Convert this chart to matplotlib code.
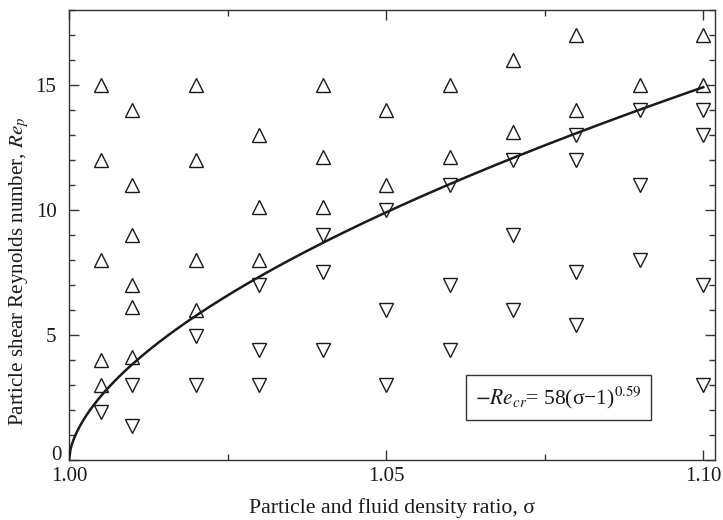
"""
Particle shear Reynolds number vs density ratio, with critical curve.
"""

import numpy as np
import matplotlib
matplotlib.use('Agg')
import matplotlib.pyplot as plt
from matplotlib.ticker import MultipleLocator
from matplotlib.transforms import ScaledTranslation

# Data
# upward triangles (motion)
up_sigma = [1.005, 1.005, 1.005, 1.005, 1.005,
            1.01, 1.01, 1.01, 1.01, 1.01, 1.01,
            1.02, 1.02, 1.02, 1.02,
            1.03, 1.03, 1.03,
            1.04, 1.04, 1.04,
            1.05, 1.05,
            1.06, 1.06,
            1.07, 1.07,
            1.08, 1.08,
            1.09,
            1.10, 1.10]
up_re = [15, 12, 8, 4, 3,
         14, 11, 9, 7, 6.1, 4.1,
         15, 12, 8, 6,
         13, 10.1, 8,
         15, 12.1, 10.1,
         14, 11,
         15, 12.1,
         16, 13.1,
         17, 14,
         15,
         17, 15]

# downward triangles (no motion)
down_sigma = [1.005,
              1.01, 1.01,
              1.02, 1.02,
              1.03, 1.03, 1.03,
              1.04, 1.04, 1.04,
              1.05, 1.05, 1.05,
              1.06, 1.06, 1.06,
              1.07, 1.07, 1.07,
              1.08, 1.08, 1.08, 1.08,
              1.09, 1.09, 1.09,
              1.10, 1.10, 1.10, 1.10]
down_re = [1.9,
           3, 1.35,
           3, 4.95,
           3, 4.4, 7,
           4.4, 7.5, 9,
           3, 6, 10,
           4.4, 7, 11,
           6, 9, 12,
           5.4, 7.5, 12, 13,
           8, 11, 14,
           3, 7, 13, 14]

# critical curve  Re_cr = 58 (sigma - 1)^0.59
coef = 58
expo = 0.59
sigma_curve = np.linspace(1.0, 1.10, 400)
re_curve = coef * (sigma_curve - 1.0) ** expo

plt.rcParams['font.family'] = ['Liberation Serif', 'DejaVu Serif']
plt.rcParams['mathtext.fontset'] = 'stix'

fig = plt.figure(figsize=(7.23, 5.20), dpi=100)
ax = fig.add_axes([0.0954, 0.1154, 0.894, 0.8656])

ax.plot(sigma_curve, re_curve, color='#1a1a1a', linewidth=1.8, zorder=3)
ax.plot(up_sigma, up_re, linestyle='none', marker='^', markersize=9.5,
        markerfacecolor='white', markeredgecolor='#1a1a1a', markeredgewidth=1.0, zorder=2)
ax.plot(down_sigma, down_re, linestyle='none', marker='v', markersize=9.5,
        markerfacecolor='white', markeredgecolor='#1a1a1a', markeredgewidth=1.0, zorder=2)

ax.set_xlim(1.0, 1.1019)
ax.set_ylim(0, 18)
ax.set_xticks([1.00, 1.05, 1.10])
ax.set_xticklabels(['1.00', '1.05', '1.10'])
ax.xaxis.set_minor_locator(MultipleLocator(0.025))
ax.set_yticks([0, 5, 10, 15])
ax.yaxis.set_minor_locator(MultipleLocator(1))

ax.tick_params(which='both', direction='in', top=True, right=True,
               colors='#333333', labelcolor='#1a1a1a', labelsize=15)
ax.tick_params(which='major', length=7, width=1.0)
ax.tick_params(which='minor', length=4, width=1.0)
ax.tick_params(axis='x', which='major', pad=5)
ax.tick_params(axis='y', which='major', pad=9)
for sp in ax.spines.values():
    sp.set_color('#333333')
    sp.set_linewidth(1.0)

# nudge the "0" label up and right so it clears "1.00" as in the reference
fig.canvas.draw()
zero_lab = ax.yaxis.get_majorticklabels()[0]
zero_lab.set_transform(zero_lab.get_transform() + ScaledTranslation(4 / 72, 5 / 72, fig.dpi_scale_trans))

ax.set_xlabel('Particle and fluid density ratio, σ', fontsize=15.7, color='#1a1a1a', labelpad=9)
ax.set_ylabel(r'Particle shear Reynolds number, $Re_p$', fontsize=15.1, color='#1a1a1a')
ax.yaxis.set_label_coords(-0.058, 0.42)

ax.text(1.0772, 2.5, r'$-Re_{cr}$= 58(σ−1)$^{0.59}$', fontsize=15.5, ha='center', va='center',
        color='#1a1a1a',
        bbox=dict(boxstyle='square,pad=0.42', facecolor='white', edgecolor='#333333', linewidth=1.0))

plt.savefig('out.png', dpi=100)
